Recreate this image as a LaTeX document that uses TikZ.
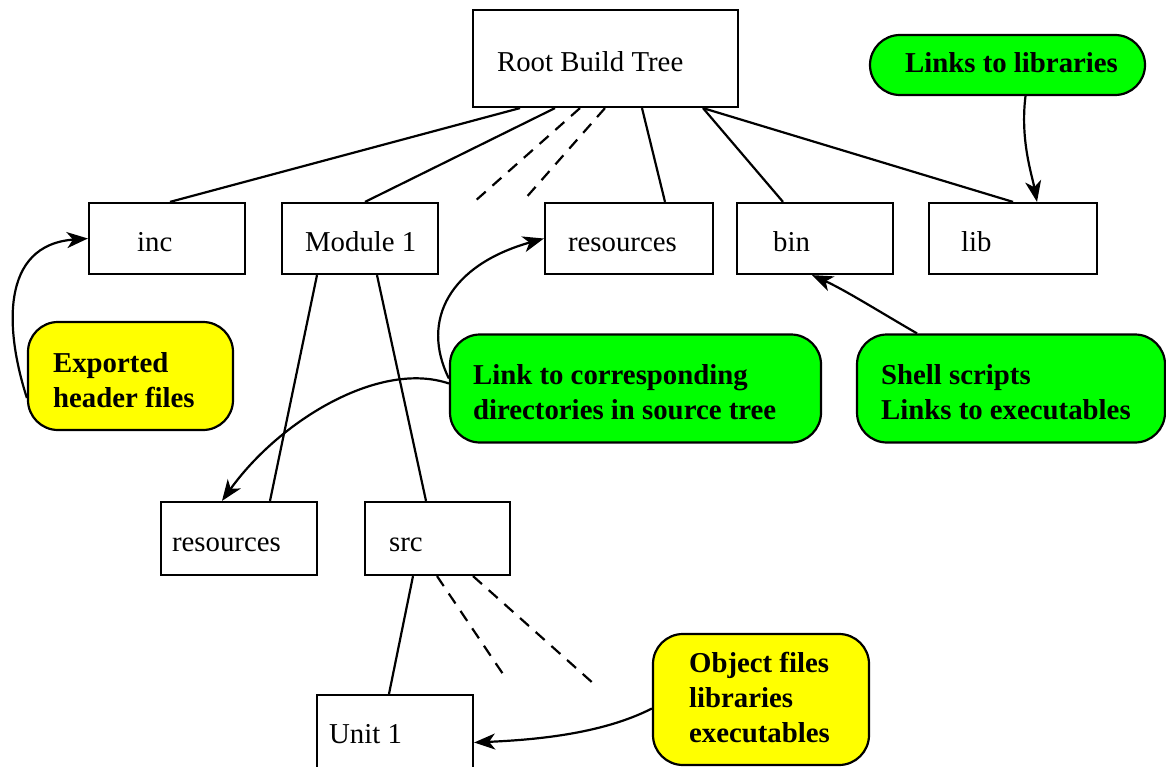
\documentclass[tikz,border=0pt]{standalone}
\usepackage{fontspec}
\setmainfont{Liberation Serif}
\usetikzlibrary{arrows.meta}
\definecolor{notegreen}{RGB}{0,255,0}
\definecolor{noteyellow}{RGB}{255,255,0}
\newcommand{\textrows}[1]{\begin{tabular}{@{}l@{}}#1\end{tabular}}
\tikzset{
  dir/.style={draw, line width=2.2pt, rectangle, inner sep=0pt},
  note/.style={draw, line width=2.2pt, rectangle, rounded corners=30pt, inner sep=0pt},
  dirtext/.style={anchor=west, inner sep=0pt, font=\fontsize{28.8}{35}\selectfont},
  notetext/.style={anchor=west, inner sep=0pt, font=\fontsize{28.8}{35}\selectfont\bfseries},
  branch/.style={line width=2.2pt},
  more/.style={line width=2.2pt, dash pattern=on 12pt off 9pt},
  pointer/.style={line width=2.2pt, -{Stealth[length=21pt,width=16pt,inset=6pt]}},
}
\begin{document}
\begin{tikzpicture}[x=1pt,y=-1pt]
\useasboundingbox (0,0) rectangle (1166,767);

% directory boxes
\node[dir, minimum width=265pt, minimum height=97pt] (root) at (605.5,58.5) {};
\node[dir, minimum width=156pt, minimum height=71pt] (inc)  at (167,238.5) {};
\node[dir, minimum width=156pt, minimum height=71pt] (mod)  at (360,238.5) {};
\node[dir, minimum width=168pt, minimum height=71pt] (res1) at (629,238.5) {};
\node[dir, minimum width=156pt, minimum height=71pt] (bin)  at (815,238.5) {};
\node[dir, minimum width=168pt, minimum height=71pt] (lib)  at (1013,238.5) {};
\node[dir, minimum width=156pt, minimum height=73pt] (res2) at (239,538.5) {};
\node[dir, minimum width=145pt, minimum height=73pt] (src)  at (437.5,538.5) {};
\node[dir, minimum width=156pt, minimum height=73pt] (unit) at (395,731.5) {};

% directory names
\node[dirtext] (rootT) at ([xshift=25pt,yshift=-6pt]root.west) {\textrows{Root Build Tree}};
\node[dirtext] (incT)  at ([xshift=49pt,yshift=-6pt]inc.west)  {\textrows{inc}};
\node[dirtext] (modT)  at ([xshift=24pt,yshift=-6pt]mod.west)  {\textrows{Module 1}};
\node[dirtext] (res1T) at ([xshift=24pt,yshift=-6pt]res1.west) {\textrows{resources}};
\node[dirtext] (binT)  at ([xshift=37pt,yshift=-6pt]bin.west)  {\textrows{bin}};
\node[dirtext] (libT)  at ([xshift=33pt,yshift=-6pt]lib.west)  {\textrows{lib}};
\node[dirtext] (res2T) at ([xshift=12pt,yshift=-6pt]res2.west) {\textrows{resources}};
\node[dirtext] (srcT)  at ([xshift=25pt,yshift=-6pt]src.west)  {\textrows{src}};
\node[dirtext] (unitT) at ([xshift=13pt,yshift=-5pt]unit.west) {\textrows{Unit 1}};

% annotation callouts
\node[note, fill=noteyellow, minimum width=205pt, minimum height=108pt] (exp)   at (130.5,376) {};
\node[note, fill=notegreen,  minimum width=371pt, minimum height=108pt] (link)  at (635.5,388.5) {};
\node[note, fill=notegreen,  minimum width=308pt, minimum height=108pt] (shell) at (1011,388.5) {};
\node[note, fill=notegreen,  minimum width=275pt, minimum height=60pt]  (libs)  at (1007.5,65) {};
\node[note, fill=noteyellow, minimum width=216pt, minimum height=131pt] (obj)   at (761,699.5) {};

\node[notetext] (expT)   at ([xshift=26pt,yshift=-7pt]exp.west)   {\textrows{Exported\\header files}};
\node[notetext] (linkT)  at ([xshift=24pt,yshift=-6pt]link.west)  {\textrows{Link to corresponding\\directories in source tree}};
\node[notetext] (shellT) at ([xshift=25pt,yshift=-6pt]shell.west) {\textrows{Shell scripts\\Links to executables}};
\node[notetext] (libsT)  at ([xshift=36pt,yshift=-1pt]libs.west)  {\textrows{Links to libraries}};
\node[notetext] (objT)   at ([xshift=37pt,yshift=-1pt]obj.west)   {\textrows{Object files\\libraries\\executables}};

% tree branches
\draw[branch] ([xshift=-85.5pt]root.south) -- ([xshift=3pt]inc.north);
\draw[branch] ([xshift=-50.5pt]root.south) -- ([xshift=5pt]mod.north);
\draw[branch] ([xshift=36.5pt]root.south) -- ([xshift=36pt]res1.north);
\draw[branch] ([xshift=97.5pt]root.south) -- ([xshift=-32pt]bin.north);
\draw[branch] ([xshift=97.5pt]root.south) -- (lib.north);
\draw[branch] ([xshift=-43pt]mod.south) -- ([xshift=31pt]res2.north);
\draw[branch] ([xshift=17pt]mod.south) -- ([xshift=-11.5pt]src.north);
\draw[branch] ([xshift=-24.5pt]src.south) -- ([xshift=-6pt]unit.north);

% elided siblings
\coordinate (rd1) at (474,202);
\coordinate (rd2) at (524,200);
\draw[more] ([xshift=-25.5pt]root.south) -- (rd1);
\draw[more] ([xshift=-0.5pt]root.south) -- (rd2);
\coordinate (sd1) at (507,680);
\coordinate (sd2) at (594,684);
\draw[more] ([xshift=-0.5pt]src.south) -- (sd1);
\draw[more] ([xshift=35.5pt]src.south) -- (sd2);

% annotation pointers
\draw[pointer] (exp.192) .. controls (5,330) and (0,245) .. (inc.west);
\draw[pointer] ([yshift=10pt]link.west) .. controls (420,320) and (450,265) .. (res1.west);
\draw[pointer] ([yshift=5pt]link.west) .. controls (380,360) and (280,420) .. ([xshift=-17pt]res2.north);
\draw[pointer] ([xshift=-94pt]shell.north) .. controls (880,312) and (845,290) .. ([xshift=-3pt]bin.south);
\draw[pointer] ([xshift=18pt]libs.south) .. controls (1020,140) and (1032,175) .. ([xshift=24pt]lib.north);
\draw[pointer] ([yshift=-9pt]obj.west) .. controls (600,735) and (530,740) .. ([yshift=-11pt]unit.east);
\end{tikzpicture}
\end{document}
